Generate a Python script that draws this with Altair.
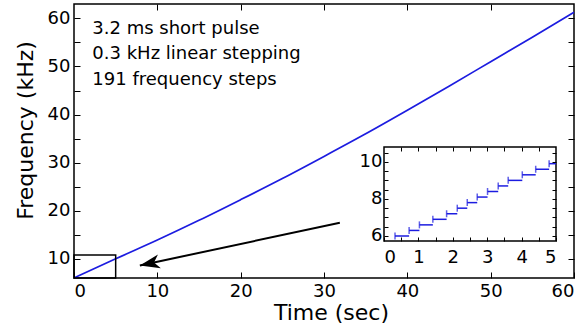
import altair as alt
import pandas as pd

# ---- data ----
time_s = [0, 5, 10, 15, 20, 25, 30, 35, 40, 45, 50, 55, 60]
freq_khz = [6.0, 10.0, 13.9, 18.0, 22.3, 26.7, 31.3, 36.0, 40.9, 45.9, 51.0, 56.1, 61.3]

step_start = [0.32, 0.73, 1.03, 1.42, 1.82, 2.13, 2.42, 2.71, 3.01, 3.32, 3.61, 4.02, 4.41, 4.80]
step_end = [0.73, 1.03, 1.42, 1.82, 2.13, 2.42, 2.71, 3.01, 3.32, 3.61, 4.02, 4.41, 4.80, 5.0]
step_freq = [6.0, 6.3, 6.6, 6.9, 7.2, 7.5, 7.8, 8.1, 8.4, 8.7, 9.0, 9.3, 9.6, 9.9]

notes = ["3.2 ms short pulse", "0.3 kHz linear stepping", "191 frequency steps"]
note_x = [2.2, 2.2, 2.2]
note_y = [57.8, 52.5, 47.2]

zoom_box = {"x": [0], "x2": [5], "y": [6], "y2": [10.8]}
arrow_tail = (31.9, 17.5)
arrow_tip = (7.9, 8.6)

main_x_dom = [0, 60]
main_y_dom = [6, 63]
inset_x_dom = [0, 5]
inset_y_dom = [5.73, 10.8]

W, H = 500, 274
INSET_X_RANGE = [310, 482]
INSET_Y_RANGE = [237, 143]

FONT = "DejaVu Sans"
BLUE = "#1c1ce0"

main_df = pd.DataFrame({"t": time_s, "f": freq_khz})
steps_df = pd.DataFrame({"t": step_start, "t2": step_end, "f": step_freq})
notes_df = pd.DataFrame({"x": note_x, "y": note_y, "txt": notes})
box_df = pd.DataFrame(zoom_box)
arrow_df = pd.DataFrame({"x": [arrow_tail[0]], "y": [arrow_tail[1]],
                         "x2": [arrow_tip[0]], "y2": [arrow_tip[1]]})
tip_df = pd.DataFrame({"x": [arrow_tip[0]], "y": [arrow_tip[1]]})
inset_frame_df = pd.DataFrame({"x": [inset_x_dom[0]], "x2": [inset_x_dom[1]],
                               "y": [inset_y_dom[0]], "y2": [inset_y_dom[1]]})

mx = alt.Scale(domain=main_x_dom, nice=False, zero=False)
my = alt.Scale(domain=main_y_dom, nice=False, zero=False)
ix = alt.Scale(domain=inset_x_dom, nice=False, zero=False, range=INSET_X_RANGE)
iy = alt.Scale(domain=inset_y_dom, nice=False, zero=False, range=INSET_Y_RANGE)

TS = 6
main_bottom = alt.Axis(orient="bottom", offset=-TS, tickSize=TS, domain=False, zindex=1,
                       values=[0, 10, 20, 30, 40, 50, 60], labelPadding=4,
                       title="Time (sec)", titleX=257, titleY=47, titleBaseline="alphabetic")
main_left = alt.Axis(orient="left", offset=-TS, tickSize=TS, domain=False, zindex=1,
                     values=[10, 15, 20, 25, 30, 35, 40, 45, 50, 55, 60],
                     labelExpr="datum.value % 10 == 0 ? datum.label : ''",
                     labelPadding=4, title="Frequency (kHz)", titleX=-48, titleY=126,
                     titleBaseline="alphabetic", titleAngle=270)
main_top = alt.Axis(orient="top", offset=-TS, tickSize=TS, domain=False, labels=False, zindex=1,
                    values=[10, 20, 30, 40, 50], title=None)
main_right = alt.Axis(orient="right", offset=-TS, tickSize=TS, domain=False, labels=False, zindex=1,
                      values=[10, 15, 20, 25, 30, 35, 40, 45, 50, 55, 60], title=None)

ITS = 4
inset_bottom = alt.Axis(orient="bottom", offset=-(H - INSET_Y_RANGE[0]) - ITS, tickSize=ITS,
                        domain=False, zindex=1, format="~g",
                        values=[0, 0.5, 1, 1.5, 2, 2.5, 3, 3.5, 4, 4.5, 5],
                        labelExpr="datum.value % 1 == 0 ? datum.label : ''",
                        labelPadding=7, title=None)
inset_left = alt.Axis(orient="left", offset=-INSET_X_RANGE[0] - ITS, tickSize=ITS,
                      domain=False, zindex=1, format="~g",
                      values=[6, 6.5, 7, 7.5, 8, 8.5, 9, 9.5, 10, 10.5],
                      labelExpr="datum.value % 2 == 0 ? datum.label : ''",
                      labelPadding=2, title=None)
inset_top = alt.Axis(orient="top", offset=-INSET_Y_RANGE[1] - ITS, tickSize=ITS,
                     domain=False, labels=False, zindex=1,
                     values=[0.5, 1, 1.5, 2, 2.5, 3, 3.5, 4, 4.5], title=None)
inset_right = alt.Axis(orient="right", offset=-(W - INSET_X_RANGE[1]) - ITS, tickSize=ITS,
                       domain=False, labels=False, zindex=1,
                       values=[6, 6.5, 7, 7.5, 8, 8.5, 9, 9.5, 10, 10.5], title=None)

line = alt.Chart(main_df).mark_line(color=BLUE, strokeWidth=1.7, interpolate="monotone").encode(
    x=alt.X("t:Q", scale=mx, axis=main_bottom),
    y=alt.Y("f:Q", scale=my, axis=main_left),
)
box = alt.Chart(box_df).mark_rect(fill=None, stroke="black", strokeWidth=1.5).encode(
    x=alt.X("x:Q", scale=mx, axis=main_top),
    x2="x2:Q",
    y=alt.Y("y:Q", scale=my, axis=main_right),
    y2="y2:Q",
)
arrow = alt.Chart(arrow_df).mark_rule(color="black", strokeWidth=2).encode(
    x=alt.X("x:Q", scale=mx, axis=None), x2="x2:Q",
    y=alt.Y("y:Q", scale=my, axis=None), y2="y2:Q",
)
head = alt.Chart(tip_df).mark_point(
    shape="M 0 0 L 2 -0.7 L 1.45 0 L 2 0.7 Z", filled=True, color="black",
    opacity=1, size=400, angle=348, strokeWidth=0,
).encode(
    x=alt.X("x:Q", scale=mx, axis=None),
    y=alt.Y("y:Q", scale=my, axis=None),
)
text = alt.Chart(notes_df).mark_text(align="left", baseline="middle", font=FONT,
                                     fontSize=18, color="black").encode(
    x=alt.X("x:Q", scale=mx, axis=None),
    y=alt.Y("y:Q", scale=my, axis=None),
    text="txt:N",
)

inset_frame = alt.Chart(inset_frame_df).mark_rect(fill="white", stroke="black",
                                                  strokeWidth=1.5).encode(
    x=alt.X("x:Q", scale=ix, axis=inset_bottom), x2="x2:Q",
    y=alt.Y("y:Q", scale=iy, axis=inset_left), y2="y2:Q",
)
inset_steps = alt.Chart(steps_df).mark_rule(color=BLUE, strokeWidth=1.5).encode(
    x=alt.X("t:Q", scale=ix, axis=inset_top), x2="t2:Q",
    y=alt.Y("f:Q", scale=iy, axis=inset_right),
)
inset_caps = alt.Chart(steps_df).mark_tick(color=BLUE, orient="vertical",
                                           size=7, thickness=1.5).encode(
    x=alt.X("t:Q", scale=ix, axis=None),
    y=alt.Y("f:Q", scale=iy, axis=None),
)

chart = alt.layer(line, box, arrow, head, text, inset_frame, inset_steps, inset_caps).resolve_scale(
    x="independent", y="independent"
).resolve_axis(
    x="independent", y="independent"
).properties(
    width=W, height=H,
    background="white",
    autosize=alt.AutoSizeParams(type="none"),
    padding={"left": 74, "top": 4, "right": 11, "bottom": 53},
).configure_view(
    stroke="black", strokeWidth=1.5
).configure_axis(
    labelFont=FONT, labelFontSize=18, labelColor="black",
    titleFont=FONT, titleFontSize=22, titleFontWeight="normal", titleColor="black",
    tickColor="black", tickWidth=1, grid=False,
)

chart.save("out.html", embed_options={"renderer": "svg", "actions": False})
